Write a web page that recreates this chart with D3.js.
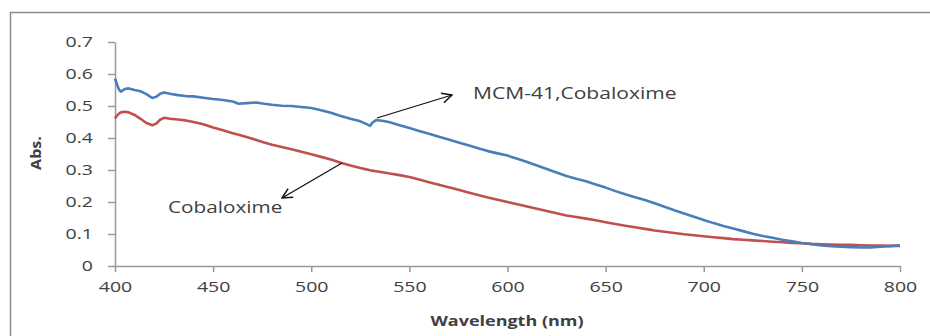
<!DOCTYPE html>
<meta charset="utf-8">
<style>
  body { margin: 0; background: #fff; }
  text { font-family: "Open Sans", sans-serif; fill: #404040; }
</style>
<body>
<svg></svg>
<script src="https://cdnjs.cloudflare.com/ajax/libs/d3/7.8.5/d3.min.js"></script>
<script>

var wavelength = [400,401,402,403,405,407,410,413,416,419,
  421,423,425,428,432,436,440,445,450,455,
  460,463,467,472,476,480,485,490,495,500,
  505,510,515,520,525,528,530,531,533,537,540,
  545,550,555,560,565,570,575,580,585,590,
  595,600,605,610,615,620,625,630,635,640,
  645,650,655,660,665,670,675,680,685,690,
  695,700,705,710,715,720,725,730,735,740,
  745,750,755,760,765,770,775,780,785,790,
  795,800];

var mcmCobaloxime = [.586,.568,.552,.545,.553,.555,.550,.546,.537,.525,
  .529,.538,.542,.538,.534,.531,.530,.526,.522,.519,
  .514,.507,.509,.511,.507,.504,.501,.500,.497,.494,
  .487,.479,.469,.460,.452,.444,.438,.447,.456,.453,.449,
  .440,.431,.422,.413,.404,.395,.386,.377,.368,.359,
  .352,.345,.335,.325,.314,.303,.292,.281,.273,.265,
  .255,.245,.234,.224,.215,.206,.196,.185,.174,.164,
  .154,.144,.134,.125,.117,.109,.101,.094,.088,.082,
  .077,.072,.068,.064,.062,.060,.059,.058,.058,.060,
  .062,.065];

var cobaloxime = [.461,.470,.476,.480,.482,.480,.472,.460,.447,.440,
  .445,.457,.463,.460,.458,.455,.450,.443,.433,.424,
  .415,.410,.403,.394,.386,.379,.372,.365,.357,.349,
  .341,.333,.323,.314,.306,.302,.299,.298,.296,.292,.289,
  .284,.278,.270,.262,.254,.246,.238,.230,.222,.214,
  .207,.200,.193,.186,.179,.172,.165,.158,.153,.148,
  .143,.137,.131,.126,.121,.116,.111,.107,.103,.099,
  .096,.093,.090,.087,.084,.082,.080,.078,.076,.074,
  .072,.071,.069,.068,.067,.066,.066,.065,.064,.064,
  .063,.063];

var xTicks = [400,450,500,550,600,650,700,750,800];
var yTicks = [0,0.1,0.2,0.3,0.4,0.5,0.6,0.7];

var width = 930, height = 336;
var stretch = 1.3; // the source image is stretched sideways

var svg = d3.select('svg')
  .attr("width", width)
  .attr("height", height);

// outer frame (only top + left visible in the crop)
svg.append("rect")
  .attr("x", 10.5).attr("y", 12.5)
  .attr("width", 960).attr("height", 400)
  .attr("fill", "none")
  .attr("stroke", "#8c8c8c")
  .attr("stroke-width", 1.5);

var x = d3.scaleLinear().domain([400, 800]).range([115, 900]);
var y = d3.scaleLinear().domain([0, 0.7]).range([266, 42]);

var xAxis = svg.append("g")
  .attr("transform", "translate(0,266)")
  .call(d3.axisBottom(x).tickValues(xTicks).tickSize(6).tickPadding(9).tickSizeOuter(0));

var yAxis = svg.append("g")
  .attr("transform", "translate(115,0)")
  .call(d3.axisLeft(y).tickValues(yTicks).tickSize(7).tickPadding(14).tickSizeOuter(0)
    .tickFormat(d => d === 0 ? "0" : d.toFixed(1)));

[xAxis, yAxis].forEach(function(g){
  g.select(".domain").attr("stroke", "#9a9a9a").attr("stroke-width", 1.5);
  g.selectAll(".tick line").attr("stroke", "#9a9a9a").attr("stroke-width", 1.5);
  g.selectAll(".tick text")
    .style("font-family", "'Open Sans', sans-serif")
    .style("font-size", "15px")
    .attr("fill", "#404040")
    .attr("transform", "scale(" + stretch + ",1)");
});
yAxis.selectAll(".tick text").attr("x", -22 / stretch);

var line = d3.line()
  .x((d, i) => x(wavelength[i]))
  .y(d => y(d));

svg.append("path")
  .datum(cobaloxime)
  .attr("d", line)
  .attr("fill", "none")
  .attr("stroke", "#c0504d")
  .attr("stroke-width", 2.6)
  .attr("stroke-linejoin", "round");

svg.append("path")
  .datum(mcmCobaloxime)
  .attr("d", line)
  .attr("fill", "none")
  .attr("stroke", "#4a7ebb")
  .attr("stroke-width", 2.6)
  .attr("stroke-linejoin", "round");

// axis titles
svg.append("text")
  .attr("transform", "translate(507,326) scale(1.2,1)")
  .attr("text-anchor", "middle")
  .style("font-size", "15px")
  .style("font-weight", "bold")
  .attr("fill", "#303030")
  .text("Wavelength (nm)");

svg.append("text")
  .attr("transform", "translate(41,153) rotate(-90) scale(1.15,1)")
  .attr("text-anchor", "middle")
  .style("font-size", "14px")
  .style("font-weight", "bold")
  .attr("fill", "#303030")
  .text("Abs.");

// annotations
svg.append("defs").append("marker")
  .attr("id", "arrow")
  .attr("viewBox", "0 0 12 12")
  .attr("refX", 11).attr("refY", 6)
  .attr("markerWidth", 12).attr("markerHeight", 12)
  .attr("markerUnits", "userSpaceOnUse")
  .attr("orient", "auto")
  .append("path")
  .attr("d", "M1,1 L11,6 L1,11")
  .attr("fill", "none")
  .attr("stroke", "#111")
  .attr("stroke-width", 1.5);

svg.append("line")
  .attr("x1", 377).attr("y1", 118).attr("x2", 452).attr("y2", 95)
  .attr("stroke", "#111").attr("stroke-width", 1.3)
  .attr("marker-end", "url(#arrow)");

svg.append("line")
  .attr("x1", 342).attr("y1", 163).attr("x2", 282).attr("y2", 198)
  .attr("stroke", "#111").attr("stroke-width", 1.3)
  .attr("marker-end", "url(#arrow)");

svg.append("text")
  .attr("transform", "translate(473,99) scale(1.24,1)")
  .style("font-size", "17px")
  .text("MCM-41,Cobaloxime");

svg.append("text")
  .attr("transform", "translate(168,213) scale(1.22,1)")
  .style("font-size", "17px")
  .text("Cobaloxime");

</script>
